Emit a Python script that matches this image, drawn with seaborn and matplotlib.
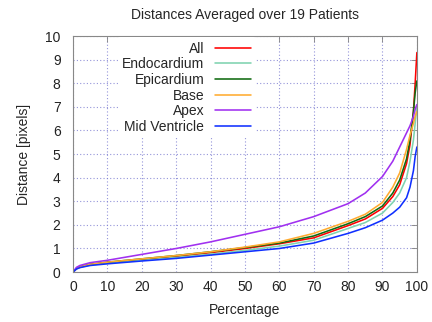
import numpy as np
import pandas as pd
import matplotlib
matplotlib.use("Agg")
import matplotlib.pyplot as plt
import seaborn as sns

# percentile positions (shared x values)
percentage = [0, 1, 2, 5, 10, 20, 30, 40, 50, 60, 70, 80, 85, 90, 93, 95, 97, 98, 99, 99.5, 100]

# distances
dist_all = [0, 0.15, 0.22, 0.32, 0.40, 0.53, 0.66, 0.82, 1.0, 1.2, 1.45, 1.97, 2.25, 2.7, 3.2, 3.7, 4.6, 5.4, 6.8, 8.0, 9.3]
dist_endo = [0, 0.14, 0.2, 0.3, 0.38, 0.5, 0.62, 0.76, 0.92, 1.1, 1.35, 1.85, 2.1, 2.5, 2.95, 3.35, 4.0, 4.7, 5.6, 6.3, 7.0]
dist_epi = [0, 0.15, 0.22, 0.33, 0.42, 0.56, 0.7, 0.86, 1.04, 1.23, 1.53, 2.05, 2.35, 2.8, 3.35, 3.9, 4.8, 5.6, 6.8, 7.6, 8.1]
dist_base = [0, 0.15, 0.22, 0.33, 0.42, 0.56, 0.7, 0.86, 1.06, 1.28, 1.64, 2.15, 2.45, 2.95, 3.6, 4.2, 5.2, 5.8, 6.3, 6.6, 6.8]
dist_apex = [0, 0.2, 0.28, 0.4, 0.5, 0.75, 1.0, 1.28, 1.6, 1.92, 2.35, 2.9, 3.35, 4.05, 4.7, 5.3, 5.9, 6.2, 6.6, 6.9, 7.1]
dist_mid = [0, 0.13, 0.19, 0.28, 0.35, 0.47, 0.58, 0.72, 0.86, 1.0, 1.23, 1.64, 1.88, 2.2, 2.5, 2.75, 3.15, 3.6, 4.3, 4.9, 5.3]

series_names = ["All", "Endocardium", "Epicardium", "Base", "Apex", "Mid Ventricle"]
series_values = [dist_all, dist_endo, dist_epi, dist_base, dist_apex, dist_mid]
colors = ["#ff0000", "#7fd3b0", "#106a10", "#ffab30", "#a030f0", "#1030ff"]

x_ticks = list(range(0, 101, 10))
y_ticks = list(range(0, 11))

sns.set_theme(style="white")
plt.rcParams["font.family"] = ["Liberation Sans", "DejaVu Sans"]

fig, ax = plt.subplots(figsize=(4.32, 3.22), dpi=100)
fig.subplots_adjust(left=0.169, right=0.965, bottom=0.155, top=0.888)

for name, vals, color in zip(series_names, series_values, colors):
    df = pd.DataFrame({"Percentage": percentage, "Distance": vals})
    sns.lineplot(data=df, x="Percentage", y="Distance", color=color, lw=1.15,
                 label=name, ax=ax)

ax.set_xlim(0, 100)
ax.set_ylim(0, 10)
ax.set_xticks(x_ticks)
ax.set_yticks(y_ticks)
ax.tick_params(direction="in", length=4, width=0.6, color="#808080",
               top=True, right=True, labelsize=10, colors="#808080",
               labelcolor="#222222")
ax.tick_params(axis="y", pad=9)
ax.tick_params(axis="x", pad=6)
ax.grid(True, color="#7a7ad0", linestyle=(0, (1, 2)), lw=0.8, alpha=0.8)
for sp in ax.spines.values():
    sp.set_color("#888888")
    sp.set_linewidth(0.8)

ax.set_title("Distances Averaged over 19 Patients", fontsize=10, pad=12)
ax.set_xlabel("Percentage", fontsize=10, labelpad=6)
ax.set_ylabel("Distance [pixels]", fontsize=10, labelpad=10)

leg = ax.legend(loc="upper right", bbox_to_anchor=(0.535, 1.0), markerfirst=False,
                frameon=True, fontsize=10, handlelength=2.6, labelspacing=0.12,
                borderaxespad=0.1, handletextpad=0.8, borderpad=0.3)
leg.get_frame().set_facecolor("white")
leg.get_frame().set_edgecolor("none")
leg.get_frame().set_alpha(1.0)
for col in leg._legend_handle_box.get_children():
    col.align = "right"

plt.savefig("out.png", dpi=100)
plt.close()
